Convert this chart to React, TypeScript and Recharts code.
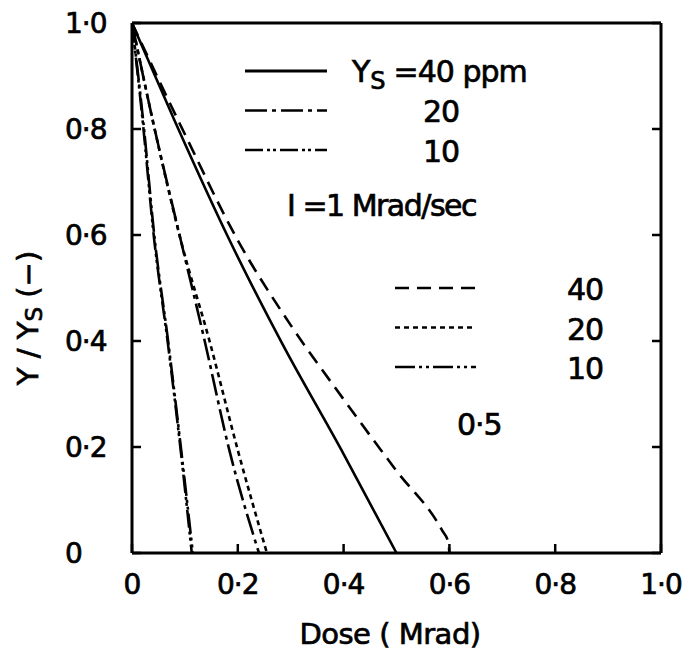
import { LineChart, Line, XAxis, YAxis } from "recharts";

const doseTicks = [0, 0.2, 0.4, 0.6, 0.8, 1.0];
const ratioTicks = [0, 0.2, 0.4, 0.6, 0.8, 1.0];

// I = 1 Mrad/sec
const fast40Dose = [0, 0.08, 0.184, 0.284, 0.396, 0.5];
const fast40Y = [1, 0.817, 0.591, 0.395, 0.194, 0];
const fast20Dose = [0, 0.039, 0.092, 0.137, 0.184, 0.24];
const fast20Y = [1, 0.817, 0.591, 0.402, 0.194, 0];
const fast10Dose = [0, 0.02, 0.042, 0.067, 0.092, 0.113];
const fast10Y = [1, 0.817, 0.591, 0.402, 0.194, 0];

// I = 0.5 Mrad/sec
const slow40Dose = [0, 0.1, 0.2, 0.3, 0.4, 0.5, 0.586, 0.598, 0.6];
const slow40Y = [1, 0.79, 0.59, 0.43, 0.29, 0.155, 0.043, 0.02, 0];
const slow20Dose = [0, 0.039, 0.092, 0.146, 0.2, 0.255];
const slow20Y = [1, 0.817, 0.591, 0.402, 0.194, 0];
const slow10Dose = [0, 0.021, 0.043, 0.068, 0.093, 0.115];
const slow10Y = [1, 0.817, 0.591, 0.402, 0.194, 0];

const fastLabels = ["40 ppm", "20", "10"];
const slowLabels = ["40", "20", "10"];

const toPoints = (dose: number[], y: number[]) =>
  dose.map((d, i) => ({ dose: d, y: y[i] }));

const dashes: Record<string, string | undefined> = {
  fast40: undefined,
  fast20: "22 5 4 5",
  fast10: "18 4 3 3 3 4",
  slow40: "14 8",
  slow20: "5 4",
  slow10: "20 4 3 4 3 4",
};

const series = [
  { key: "fast40", data: toPoints(fast40Dose, fast40Y) },
  { key: "fast20", data: toPoints(fast20Dose, fast20Y) },
  { key: "fast10", data: toPoints(fast10Dose, fast10Y) },
  { key: "slow40", data: toPoints(slow40Dose, slow40Y) },
  { key: "slow20", data: toPoints(slow20Dose, slow20Y) },
  { key: "slow10", data: toPoints(slow10Dose, slow10Y) },
];

const FONT = "'DejaVu Sans', sans-serif";
const heavy = { stroke: "#000", strokeWidth: 0.7 };

function fmt(v: number) {
  return v === 0 ? "0" : v.toFixed(1).replace(".", "·");
}

function XTick({ x, y, payload }: any) {
  return (
    <text x={x} y={y} textAnchor="middle" dominantBaseline="hanging"
      fontFamily={FONT} fontSize={28} fill="#000" letterSpacing={-1} {...heavy}>
      {fmt(payload.value)}
    </text>
  );
}

function YTick({ y, payload }: any) {
  return (
    <text x={65} y={y} textAnchor="start" dominantBaseline="central"
      fontFamily={FONT} fontSize={28} fill="#000" letterSpacing={-1} {...heavy}>
      {fmt(payload.value)}
    </text>
  );
}

const noTick = () => <g />;

export default function App() {
  const axisLine = { stroke: "#000", strokeWidth: 3 };
  const tickLine = { stroke: "#000", strokeWidth: 2.5 };
  const fastKeys = ["fast40", "fast20", "fast10"];
  const slowKeys = ["slow40", "slow20", "slow10"];
  return (
    <div style={{ position: "absolute", left: 0, top: 0, width: 683, height: 658, background: "#fff" }}>
      <LineChart width={683} height={658} margin={{ top: 22, right: 21, bottom: 0, left: 0 }}>
        <XAxis xAxisId="bottom" dataKey="dose" type="number" domain={[0, 1]} ticks={doseTicks}
          allowDataOverflow height={105} axisLine={axisLine} tickLine={tickLine}
          tickSize={-9} tickMargin={29} tick={<XTick />} />
        <XAxis xAxisId="top" orientation="top" type="number" domain={[0, 1]} ticks={doseTicks}
          allowDataOverflow height={1} axisLine={axisLine} tickLine={tickLine}
          tickSize={-9} tick={noTick} />
        <YAxis yAxisId="left" type="number" domain={[0, 1]} ticks={ratioTicks}
          allowDataOverflow width={132} axisLine={axisLine} tickLine={tickLine}
          tickSize={-9} tick={<YTick />} />
        <YAxis yAxisId="right" orientation="right" type="number" domain={[0, 1]} ticks={ratioTicks}
          allowDataOverflow width={1} axisLine={axisLine} tickLine={tickLine}
          tickSize={-9} tick={noTick} />
        {series.map((s) => (
          <Line key={s.key} xAxisId="bottom" yAxisId="left" data={s.data} dataKey="y"
            type="monotone" stroke="#000" strokeWidth={2.6} strokeDasharray={dashes[s.key]}
            dot={false} activeDot={false} isAnimationActive={false} />
        ))}
      </LineChart>
      <svg width={683} height={658} style={{ position: "absolute", left: 0, top: 0, pointerEvents: "none" }}
        fontFamily={FONT} fill="#000" stroke="#000" strokeWidth={0.7}>
        {fastKeys.map((k, i) => (
          <line key={k} x1={245} x2={327} y1={71 + i * 39.5} y2={71 + i * 39.5}
            stroke="#000" strokeWidth={i === 0 ? 3 : 2.5} strokeDasharray={dashes[k]} />
        ))}
        <text x={352} y={82} fontSize={30}>
          Y<tspan fontSize={24} dy={7}>S</tspan>
          <tspan dy={-7} dx={8} letterSpacing={-1}>={fastLabels[0]}</tspan>
        </text>
        {fastLabels.slice(1).map((t, i) => (
          <text key={t} x={423} y={122 + i * 39.5} fontSize={30} letterSpacing={-1}>{t}</text>
        ))}
        <text x={287} y={216} fontSize={30} letterSpacing={-1.5}>I =1 Mrad/sec</text>
        {slowKeys.map((k, i) => (
          <line key={k} x1={395} x2={476} y1={288 + i * 39.5} y2={288 + i * 39.5}
            stroke="#000" strokeWidth={2.5} strokeDasharray={dashes[k]} />
        ))}
        {slowLabels.map((t, i) => (
          <text key={t} x={567} y={300 + i * 39.5} fontSize={30} letterSpacing={-1}>{t}</text>
        ))}
        <text x={457} y={435} fontSize={30} letterSpacing={-1}>0·5</text>
        <text x={390} y={644} fontSize={29} textAnchor="middle" letterSpacing={-0.5}>Dose ( Mrad)</text>
        <text x={28} y={318} fontSize={29} textAnchor="middle" dominantBaseline="central"
          transform="rotate(-90, 28, 318)">
          Y / Y<tspan fontSize={23} dy={6}>S</tspan><tspan dy={-6}> (−)</tspan>
        </text>
      </svg>
    </div>
  );
}
